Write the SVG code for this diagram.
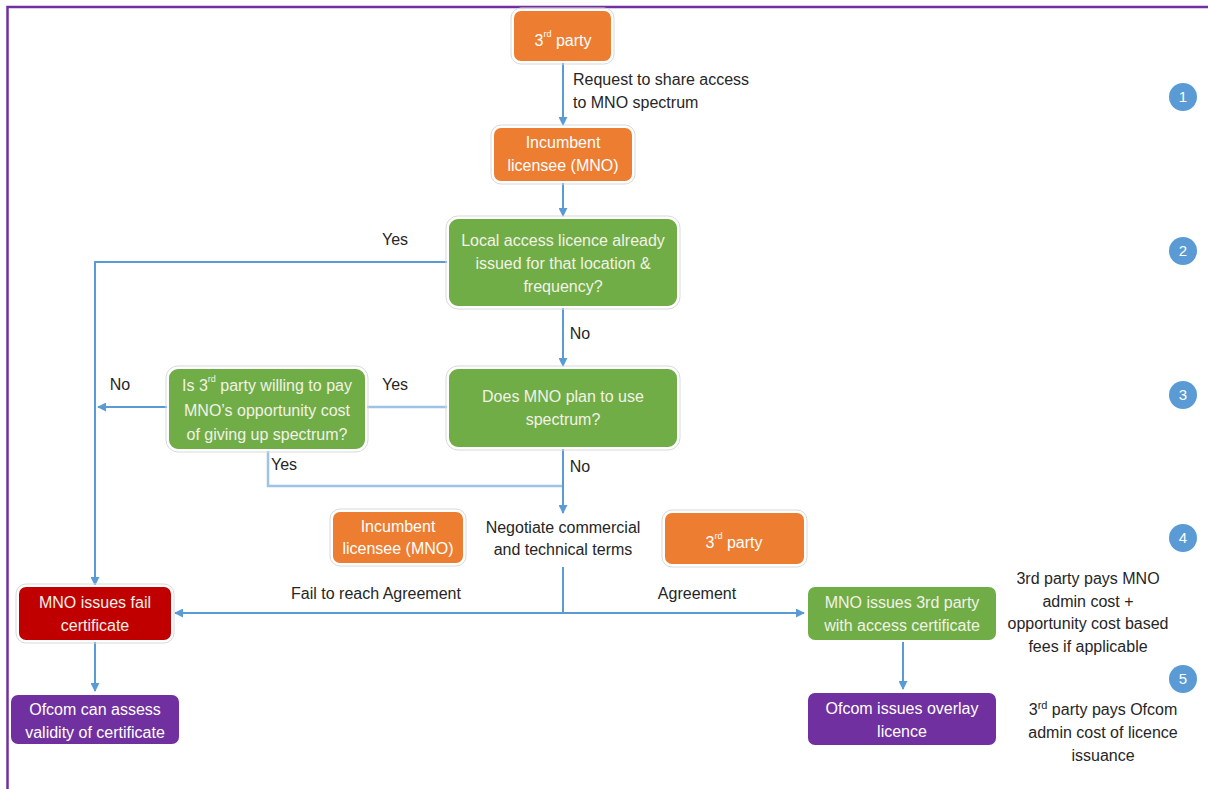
<svg xmlns="http://www.w3.org/2000/svg" width="1208" height="789" viewBox="0 0 1208 789">
<defs>
<marker id="ah" viewBox="0 0 10 10" refX="9" refY="5" markerWidth="4.5" markerHeight="4.5" orient="auto" markerUnits="strokeWidth"><path d="M0,0 L10,5 L0,10 z" fill="#5B9BD5"/></marker>
<style>
text{font-family:"Liberation Sans",Arial,sans-serif;font-size:16px}
.bt{fill:#FFFFFF;text-anchor:middle}
.gt{fill:#F2F2E6;text-anchor:middle}
.lb{fill:#262626}
.mid{text-anchor:middle}
.or{fill:#ED7D31}
.gr{fill:#70AD47}
.rd{fill:#C00000}
.pu{fill:#7030A0}
.box{stroke:#FFFFFF;stroke-width:2}
.halo{fill:none;stroke:#D9D9D9;stroke-width:1}
.c{fill:none;stroke:#5B9BD5;stroke-width:2}
.cl{fill:none;stroke:#9DC3E6;stroke-width:2.5}
.num{fill:#5B9BD5}
.nt{fill:#FFFFFF;text-anchor:middle;font-size:15px}
</style>
</defs>
<rect width="1208" height="789" fill="#FFFFFF"/>
<path d="M7.5,789 V7 H1208" fill="none" stroke="#7030A0" stroke-width="2.5"/>

<g id="connectors">
<path class="c" d="M563,63 V125" marker-end="url(#ah)"/>
<path class="c" d="M563,183 V216" marker-end="url(#ah)"/>
<path class="c" d="M447,262 H95 V585" marker-end="url(#ah)"/>
<path class="c" d="M563,308 V366" marker-end="url(#ah)"/>
<path class="cl" d="M447,407 H367"/>
<path class="c" d="M167,407 H98" marker-end="url(#ah)"/>
<path class="cl" d="M268,451 V486 H563"/>
<path class="c" d="M563,449 V513" marker-end="url(#ah)"/>
<path class="c" d="M563,567 V613"/>
<path class="c" d="M563,613 H175" marker-end="url(#ah)"/>
<path class="c" d="M563,613 H804" marker-end="url(#ah)"/>
<path class="c" d="M95,642 V691" marker-end="url(#ah)"/>
<path class="c" d="M903,642 V689" marker-end="url(#ah)"/>
<text class="lb" x="573" y="85">Request to share access</text>
<text class="lb" x="573" y="108">to MNO spectrum</text>
<text class="lb mid" x="395" y="245">Yes</text>
<text class="lb mid" x="580" y="339">No</text>
<text class="lb mid" x="395" y="390">Yes</text>
<text class="lb mid" x="120" y="390">No</text>
<text class="lb mid" x="284" y="470">Yes</text>
<text class="lb mid" x="580" y="472">No</text>
<text class="lb mid" x="376" y="599">Fail to reach Agreement</text>
<text class="lb mid" x="697" y="599">Agreement</text>
</g>

<g id="n1">
<rect class="halo" x="511" y="8" width="103" height="56" rx="10"/>
<rect class="box or" x="513" y="10" width="99" height="52" rx="8"/>
<text class="bt" x="563" y="46">3<tspan font-size="9" dy="-9">rd</tspan><tspan dy="9"> party</tspan></text>
</g>

<g id="n2">
<rect class="halo" x="491" y="125" width="144" height="59" rx="10"/>
<rect class="box or" x="493" y="127" width="140" height="55" rx="8"/>
<text class="bt" x="563" y="148">Incumbent</text>
<text class="bt" x="563" y="171">licensee (MNO)</text>
</g>

<g id="n3">
<rect class="halo" x="446" y="216" width="234" height="93" rx="12"/>
<rect class="box gr" x="448" y="218" width="230" height="89" rx="10"/>
<text class="gt" x="563" y="246">Local access licence already</text>
<text class="gt" x="563" y="269">issued for that location &amp;</text>
<text class="gt" x="563" y="292">frequency?</text>
</g>

<g id="n4">
<rect class="halo" x="446" y="366" width="234" height="84" rx="12"/>
<rect class="box gr" x="448" y="368" width="230" height="80" rx="10"/>
<text class="gt" x="563" y="402">Does MNO plan to use</text>
<text class="gt" x="563" y="425">spectrum?</text>
</g>

<g id="n5">
<rect class="halo" x="166" y="366" width="202" height="86" rx="12"/>
<rect class="box gr" x="168" y="368" width="198" height="82" rx="10"/>
<text class="gt" x="267" y="391">Is 3<tspan font-size="9" dy="-9">rd</tspan><tspan dy="9"> party willing to pay</tspan></text>
<text class="gt" x="267" y="416">MNO’s opportunity cost</text>
<text class="gt" x="267" y="440">of giving up spectrum?</text>
</g>

<g id="n6">
<rect class="halo" x="330" y="509" width="136" height="57" rx="10"/>
<rect class="box or" x="332" y="511" width="132" height="53" rx="8"/>
<text class="bt" x="398" y="532">Incumbent</text>
<text class="bt" x="398" y="554">licensee (MNO)</text>
</g>

<g id="n7">
<text class="lb mid" x="563" y="533">Negotiate commercial</text>
<text class="lb mid" x="563" y="555">and technical terms</text>
</g>

<g id="n8">
<rect class="halo" x="662" y="510" width="145" height="57" rx="10"/>
<rect class="box or" x="664" y="512" width="141" height="53" rx="8"/>
<text class="bt" x="734" y="548">3<tspan font-size="9" dy="-9">rd</tspan><tspan dy="9"> party</tspan></text>
</g>

<g id="n9">
<rect class="halo" x="16" y="584" width="158" height="59" rx="10"/>
<rect class="box rd" x="18" y="586" width="154" height="55" rx="8"/>
<text class="gt" x="95" y="608">MNO issues fail</text>
<text class="gt" x="95" y="631">certificate</text>
</g>

<g id="n10">
<rect class="box pu" x="10" y="694" width="170" height="51" rx="8"/>
<text class="bt" x="95" y="715">Ofcom can assess</text>
<text class="bt" x="95" y="738">validity of certificate</text>
</g>

<g id="n11">
<rect class="box gr" x="807" y="586" width="190" height="55" rx="8"/>
<text class="gt" x="902" y="608">MNO issues 3rd party</text>
<text class="gt" x="902" y="631">with access certificate</text>
</g>

<g id="n12">
<rect class="box pu" x="807" y="692" width="190" height="54" rx="8"/>
<text class="bt" x="902" y="714">Ofcom issues overlay</text>
<text class="bt" x="902" y="737">licence</text>
</g>

<g id="n13">
<text class="lb mid" x="1088" y="584">3rd party pays MNO</text>
<text class="lb mid" x="1088" y="607">admin cost +</text>
<text class="lb mid" x="1088" y="629">opportunity cost based</text>
<text class="lb mid" x="1088" y="652">fees if applicable</text>
</g>

<g id="n14">
<text class="lb mid" x="1103" y="715">3<tspan font-size="11" dy="-6">rd</tspan><tspan dy="6"> party pays Ofcom</tspan></text>
<text class="lb mid" x="1103" y="738">admin cost of licence</text>
<text class="lb mid" x="1103" y="761">issuance</text>
</g>

<g id="steps">
<circle class="num" cx="1183" cy="97" r="14"/><text class="nt" x="1183" y="102">1</text>
<circle class="num" cx="1183" cy="251" r="14"/><text class="nt" x="1183" y="256">2</text>
<circle class="num" cx="1183" cy="395" r="14"/><text class="nt" x="1183" y="400">3</text>
<circle class="num" cx="1183" cy="538" r="14"/><text class="nt" x="1183" y="543">4</text>
<circle class="num" cx="1183" cy="679" r="14"/><text class="nt" x="1183" y="684">5</text>
</g>
</svg>
